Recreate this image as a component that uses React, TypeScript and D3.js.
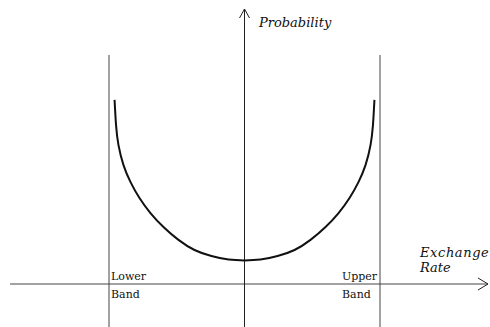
import React from 'react';
import * as d3 from 'd3';

// exchange rate relative to the band (-1 = lower band, 1 = upper band)
const rates = [
  -0.959, -0.948, -0.93, -0.893, -0.841, -0.775, -0.694, -0.598, -0.487, -0.369, -0.244, -0.118,
  0,
  0.118, 0.244, 0.369, 0.487, 0.598, 0.694, 0.775, 0.841, 0.893, 0.93, 0.948, 0.959,
];
const probability = [
  67.2, 58.0, 50.7, 43.4, 37.2, 31.4, 25.9, 20.8, 16.1, 12.4, 10.2, 8.9,
  8.6,
  8.9, 10.2, 12.4, 16.1, 20.8, 25.9, 31.4, 37.2, 43.4, 50.7, 58.0, 67.2,
];
const bands = [-1, 1];
const bandLabels = [['Lower', 'Band'], ['Upper', 'Band']];

const width = 490;
const height = 327;

const App = () => {
  const x = d3.scaleLinear().domain([-1, 1]).range([109, 380]);
  const y = d3.scaleLinear().domain([0, 100]).range([284, 10]);

  const line = d3
    .line<number>()
    .x((d, i) => x(rates[i]))
    .y(d => y(d))
    .curve(d3.curveNatural);

  const axisY = y(0);
  const axisX = x(0);
  const serif = '"DejaVu Serif", "Liberation Serif", serif';

  return (
    <svg width={width} height={height} style={{ position: 'absolute', left: 0, top: 0, background: '#fff' }}>
      {/* band lines */}
      {bands.map(b => (
        <line key={b} x1={x(b)} x2={x(b)} y1={55} y2={height} stroke="#444" strokeWidth={1} />
      ))}

      {/* horizontal axis */}
      <line x1={10} x2={488} y1={axisY} y2={axisY} stroke="#444" strokeWidth={1} />
      <path
        d={`M${478},${axisY - 6} L${488},${axisY} L${478},${axisY + 6}`}
        fill="none"
        stroke="#222"
        strokeWidth={1}
      />

      {/* vertical axis */}
      <line x1={axisX} x2={axisX} y1={9} y2={height} stroke="#222" strokeWidth={1} />
      <path
        d={`M${axisX - 5},${18} L${axisX},${9} L${axisX + 5},${18}`}
        fill="none"
        stroke="#222"
        strokeWidth={1}
      />

      {/* distribution */}
      <path d={line(probability) ?? ''} fill="none" stroke="#111" strokeWidth={2} />

      {/* labels */}
      <g fontFamily={serif} fontSize={11} fill="#111">
        <text x={x(-1) + 2} y={280}>{bandLabels[0][0]}</text>
        <text x={x(-1) + 2} y={298}>{bandLabels[0][1]}</text>
        <text x={x(1) - 3} y={280} textAnchor="end">{bandLabels[1][0]}</text>
        <text x={x(1) - 38} y={298}>{bandLabels[1][1]}</text>
      </g>
      <g fontFamily={serif} fontStyle="italic" fontSize={13} fill="#111">
        <text x={259} y={27}>Probability</text>
        <text x={420} y={257} letterSpacing={0.6}>Exchange</text>
        <text x={420} y={272}>Rate</text>
      </g>
    </svg>
  );
};

export default App;
